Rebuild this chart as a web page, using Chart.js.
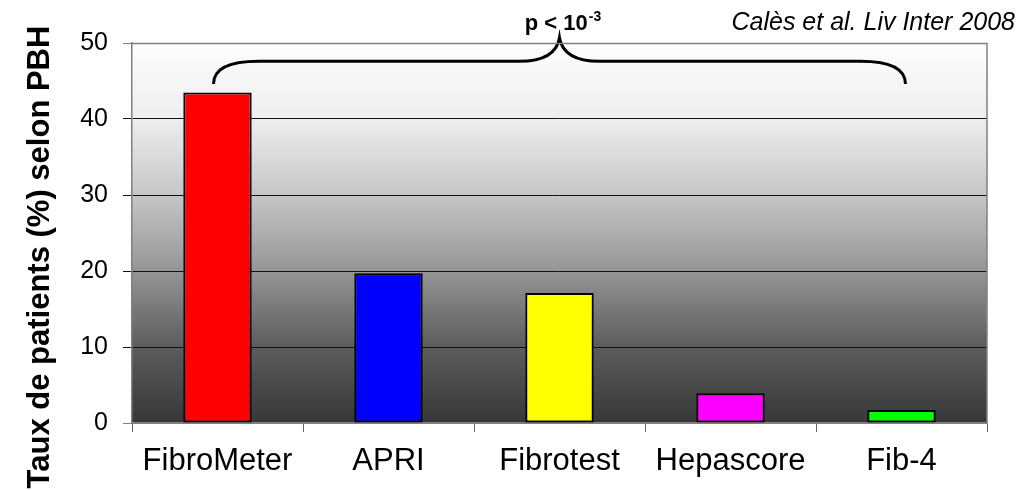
<!DOCTYPE html>
<html>
<head>
<meta charset="utf-8">
<script src="https://cdn.jsdelivr.net/npm/chart.js@4"></script>
<style>
  html, body { margin: 0; padding: 0; background: #fff; }
  #wrap { width: 1031px; height: 490px; }
</style>
</head>
<body>
<div id="wrap"><canvas id="chart1"></canvas></div>
<script>
const categories = ['FibroMeter', 'APRI', 'Fibrotest', 'Hepascore', 'Fib-4'];
const rates = [43.5, 19.7, 17.1, 3.9, 1.7];
const barColors = ['#ff0000', '#0000ff', '#ffff00', '#ff00ff', '#00ff00'];
const yTicks = [0, 10, 20, 30, 40, 50];

const FONT = '"Liberation Sans", Arial, sans-serif';

// gray gradient behind the bars + frame
const backgroundPlugin = {
    id: 'bg',
    beforeDraw(chart) {
        const { ctx, chartArea: a } = chart;
        const g = ctx.createLinearGradient(0, a.top, 0, a.bottom);
        g.addColorStop(0, '#fdfdfd');
        g.addColorStop(0.2, '#eeeeee');
        g.addColorStop(0.4, '#c6c6c6');
        g.addColorStop(0.6, '#959595');
        g.addColorStop(0.8, '#5c5c5c');
        g.addColorStop(1, '#373737');
        ctx.save();
        ctx.fillStyle = g;
        ctx.fillRect(a.left, a.top, a.right - a.left, a.bottom - a.top);
        ctx.restore();
    },
    afterDraw(chart) {
        const { ctx, chartArea: a } = chart;
        ctx.save();
        ctx.strokeStyle = '#808080';
        ctx.lineWidth = 1.5;
        ctx.beginPath();
        ctx.moveTo(a.left, a.top + 0.5);
        ctx.lineTo(a.right, a.top + 0.5);
        ctx.lineTo(a.right, a.bottom);
        ctx.stroke();

        // y axis title, drawn by hand so it can sit lower than the axis centre
        ctx.fillStyle = '#000';
        ctx.font = 'bold 31px ' + FONT;
        ctx.textAlign = 'center';
        ctx.textBaseline = 'middle';
        ctx.translate(40, 257);
        ctx.rotate(-Math.PI / 2);
        ctx.fillText('Taux de patients (%) selon PBH', 0, 0);
        ctx.restore();
    }
};

// brace over the bars and the two texts at the top
const bracePlugin = {
    id: 'brace',
    afterDatasetsDraw(chart) {
        const { ctx } = chart;
        const x = chart.scales.x, y = chart.scales.y;
        const xL = x.getPixelForValue(0) - 4;
        const xR = x.getPixelForValue(4) + 4;
        const xc = (xL + xR) / 2;
        const yEnd = y.getPixelForValue(44.6);
        const yMid = y.getPixelForValue(47.6);
        const yTip = y.getPixelForValue(50.7);
        ctx.save();
        ctx.strokeStyle = '#000';
        ctx.lineWidth = 3;
        ctx.beginPath();
        ctx.moveTo(xL, yEnd);
        ctx.quadraticCurveTo(xL, yMid, xL + 45, yMid);
        ctx.lineTo(xc - 40, yMid);
        ctx.quadraticCurveTo(xc - 4, yMid, xc, yTip);
        ctx.quadraticCurveTo(xc + 4, yMid, xc + 40, yMid);
        ctx.lineTo(xR - 45, yMid);
        ctx.quadraticCurveTo(xR, yMid, xR, yEnd);
        ctx.stroke();

        // p < 10^-3
        ctx.fillStyle = '#000';
        ctx.textBaseline = 'alphabetic';
        ctx.font = 'bold 22px ' + FONT;
        const main = 'p < 10';
        const w1 = ctx.measureText(main).width;
        ctx.font = 'bold 14px ' + FONT;
        const w2 = ctx.measureText('-3').width;
        const sx = xc - (w1 + w2) / 2 + 3;
        ctx.font = 'bold 22px ' + FONT;
        ctx.textAlign = 'left';
        ctx.fillText(main, sx, 30);
        ctx.font = 'bold 14px ' + FONT;
        ctx.fillText('-3', sx + w1 + 1, 21);

        ctx.font = 'italic 25px ' + FONT;
        ctx.textAlign = 'right';
        ctx.fillText('Calès et al. Liv Inter 2008', 1015, 30);
        ctx.restore();
    }
};

new Chart(document.getElementById('chart1'), {
    type: 'bar',
    data: {
        labels: categories,
        datasets: [{
            data: rates,
            backgroundColor: barColors,
            borderColor: '#000',
            borderWidth: 2,
            borderSkipped: false,
            categoryPercentage: 1,
            barPercentage: 0.4
        }]
    },
    options: {
        responsive: true,
        maintainAspectRatio: false,
        animation: false,
        layout: { padding: { top: 43, right: 44, left: 0, bottom: 0 } },
        plugins: {
            legend: { display: false },
            tooltip: { enabled: false }
        },
        scales: {
            x: {
                grid: {
                    offset: true,
                    drawOnChartArea: false,
                    tickLength: 9,
                    color: '#666'
                },
                border: { color: '#808080', width: 1.5 },
                ticks: {
                    color: '#000',
                    padding: 11,
                    font: { family: FONT, size: 31 }
                },
                afterFit(s) { s.height = 67; }
            },
            y: {
                min: 0,
                max: 50,
                afterBuildTicks(s) { s.ticks = yTicks.map(v => ({ value: v })); },
                grid: {
                    tickLength: 9,
                    color: c => (c.tick && (c.tick.value === 50 || c.tick.value === 0)) ? '#808080' : '#111',
                    lineWidth: 1
                },
                border: { color: '#808080', width: 1.5 },
                ticks: {
                    color: '#000',
                    padding: 15,
                    font: { family: FONT, size: 25 }
                },
                afterFit(s) { s.width = 132; }
            }
        }
    },
    plugins: [backgroundPlugin, bracePlugin]
});
</script>
</body>
</html>
